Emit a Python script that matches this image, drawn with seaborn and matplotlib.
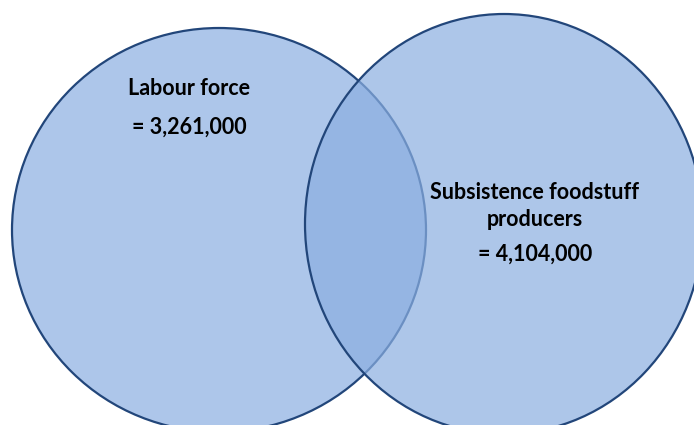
import matplotlib
matplotlib.use("Agg")
import matplotlib.pyplot as plt
from matplotlib.patches import Ellipse
import seaborn as sns

# ---- data ----
set_names = ["Labour force", "Subsistence foodstuff\nproducers"]
set_sizes = [3261000, 4104000]

sns.set_theme(style="white")
plt.rcParams["font.family"] = ["Lato", "DejaVu Sans"]

W, H = 694, 425
fig = plt.figure(figsize=(W / 100, H / 100), dpi=100)
ax = fig.add_axes([0, 0, 1, 1])
ax.set_xlim(0, W)
ax.set_ylim(H, 0)
ax.axis("off")

edge = "#22467A"
light = (173 / 255, 198 / 255, 234 / 255)
top_fill = (139 / 255, 175 / 255, 225 / 255, 0.7)

# layout (pixel geometry)
shapes = [
    dict(center=(219, 230), w=414, h=404, face=light),
    dict(center=(504, 224), w=398, h=420, face=top_fill),
]
label_pos = [(189, 88), (535, 206)]
value_pos = [(189, 127), (535, 254)]

for s in shapes:
    e = Ellipse(s["center"], s["w"], s["h"], facecolor=s["face"],
                edgecolor=edge, linewidth=1.6, zorder=2)
    ax.add_patch(e)

for name, size, lp, vp in zip(set_names, set_sizes, label_pos, value_pos):
    ax.text(lp[0], lp[1], name, ha="center", va="center", fontsize=15.5,
            fontweight="bold", color="black", linespacing=1.3, zorder=5)
    ax.text(vp[0], vp[1], f"= {size:,}", ha="center", va="center",
            fontsize=15.5, fontweight="bold", color="black", zorder=5)

fig.savefig("out.png", dpi=100, facecolor="white")
